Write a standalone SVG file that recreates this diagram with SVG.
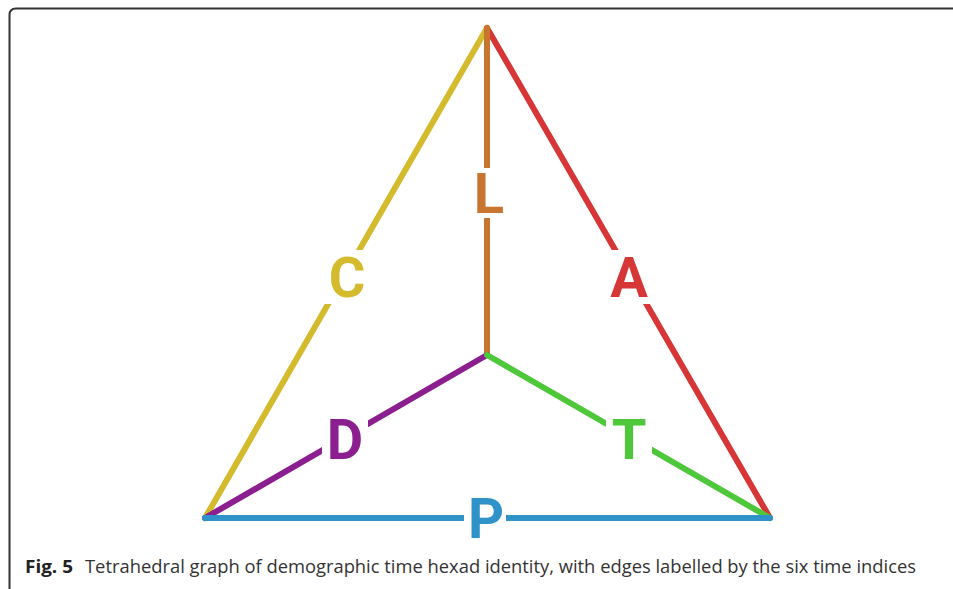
<svg xmlns="http://www.w3.org/2000/svg" width="953" height="589" viewBox="0 0 953 589">
<style>
.e{stroke-width:6;stroke-linecap:round;fill:none}
.lbl{font-family:Roboto,"Liberation Sans",sans-serif;font-weight:bold;font-size:56px;text-anchor:middle}
.bg{fill:#fff}
.cap{font-family:"Open Sans","Liberation Sans",sans-serif;font-size:18px;fill:#222}
</style>
<rect width="953" height="589" fill="#fff"/>
<path d="M9.5,589 V15 Q9.5,8.5 16,8.5 H953" fill="none" stroke="#333" stroke-width="2"/>
<g id="edges">
<line class="e" x1="487" y1="28" x2="205" y2="518" stroke="#d4bb2e"/>
<line class="e" x1="487" y1="28" x2="770" y2="518" stroke="#d63636"/>
<line class="e" x1="487" y1="28" x2="487" y2="355" stroke="#c87530"/>
<line class="e" x1="487" y1="355" x2="205" y2="518" stroke="#8b1f8f"/>
<line class="e" x1="487" y1="355" x2="770" y2="518" stroke="#4ec83a"/>
<line class="e" x1="205" y1="518" x2="770" y2="518" stroke="#2f92c8"/>
</g>
<g id="label-L"><rect class="bg" x="468" y="168" width="40" height="50"/><text class="lbl" x="489" y="213" fill="#c87530">L</text></g>
<g id="label-C"><rect class="bg" x="324" y="250" width="46" height="54"/><text class="lbl" x="347" y="297" fill="#d4bb2e">C</text></g>
<g id="label-A"><rect class="bg" x="606" y="250" width="46" height="54"/><text class="lbl" x="629" y="297" fill="#d63636">A</text></g>
<g id="label-D"><rect class="bg" x="322" y="412" width="46" height="54"/><text class="lbl" x="345" y="459" fill="#8b1f8f">D</text></g>
<g id="label-T"><rect class="bg" x="606" y="412" width="46" height="54"/><text class="lbl" x="629" y="459" fill="#4ec83a">T</text></g>
<g id="label-P"><rect class="bg" x="464" y="494" width="42" height="48"/><text class="lbl" x="486" y="538" fill="#2f92c8">P</text></g>
<text class="cap" y="573"><tspan x="25" font-weight="bold" textLength="48" lengthAdjust="spacingAndGlyphs">Fig. 5</tspan><tspan x="85" textLength="831" lengthAdjust="spacingAndGlyphs" fill="#333">Tetrahedral graph of demographic time hexad identity, with edges labelled by the six time indices</tspan></text>
</svg>
